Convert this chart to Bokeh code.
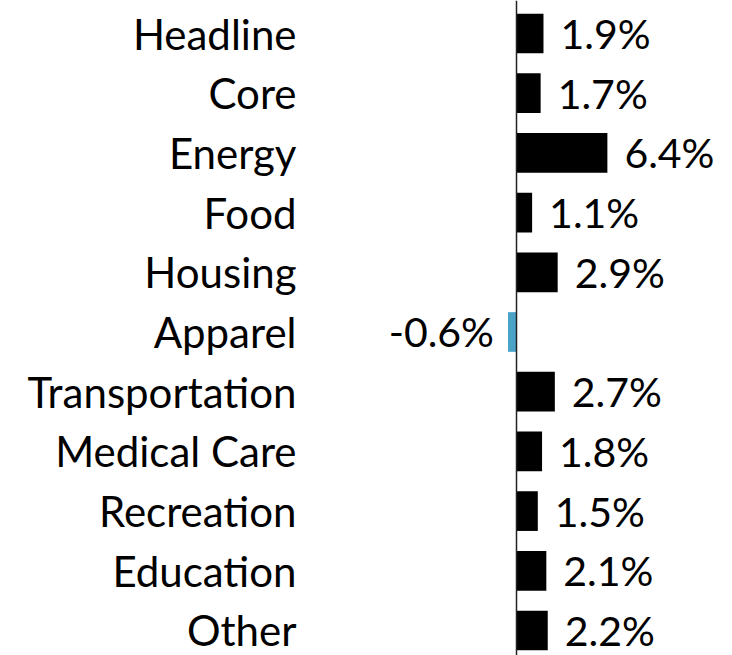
from bokeh.plotting import figure
from bokeh.models import ColumnDataSource, Range1d, Span, LinearAxis, FixedTicker
from bokeh.core.properties import value
from bokeh.embed import file_html
from bokeh.resources import INLINE

categories = ["Headline", "Core", "Energy", "Food", "Housing", "Apparel",
              "Transportation", "Medical Care", "Recreation", "Education", "Other"]
changes = [1.9, 1.7, 6.4, 1.1, 2.9, -0.6, 2.7, 1.8, 1.5, 2.1, 2.2]

FONT = "Lato"
POS_COLOR = "#000000"
NEG_COLOR = "#4BA3C8"

idx = list(range(len(categories)))
src = ColumnDataSource(dict(
    y=idx,
    v=changes,
    color=[POS_COLOR if c >= 0 else NEG_COLOR for c in changes],
    label=[f"{c:.1f}%" for c in changes],
    align=["left" if c >= 0 else "right" for c in changes],
    xoff=[17 if c >= 0 else -14 for c in changes],
))

p = figure(width=732, height=655, output_backend="svg", toolbar_location=None,
           x_range=Range1d(-14.648, 15.211), y_range=Range1d(10.419, -0.5528),
           min_border_left=308, min_border_right=0, min_border_top=0, min_border_bottom=0,
           x_axis_location=None, y_axis_location=None)
p.outline_line_color = None
p.grid.visible = False
p.background_fill_color = "white"
p.border_fill_color = "white"

yaxis = LinearAxis(ticker=FixedTicker(ticks=idx),
                   major_label_overrides={i: c for i, c in zip(idx, categories)})
yaxis.axis_line_color = None
yaxis.major_tick_line_color = None
yaxis.minor_tick_line_color = None
yaxis.major_label_standoff = 6
yaxis.major_label_text_font = FONT
yaxis.major_label_text_font_size = "42px"
yaxis.major_label_text_color = "#000000"
p.add_layout(yaxis, "left")

p.hbar(y="y", left=0, right="v", height=0.665, fill_color="color", line_color=None, source=src)

p.add_layout(Span(location=0, dimension="height", line_color="#222222", line_width=1.5))

p.text(x="v", y="y", text="label", x_offset="xoff", text_align="align",
       text_baseline="middle", text_font=value(FONT), text_font_size="41px",
       text_color="#000000", source=src)

open("out.html", "w").write(file_html(p, INLINE))
